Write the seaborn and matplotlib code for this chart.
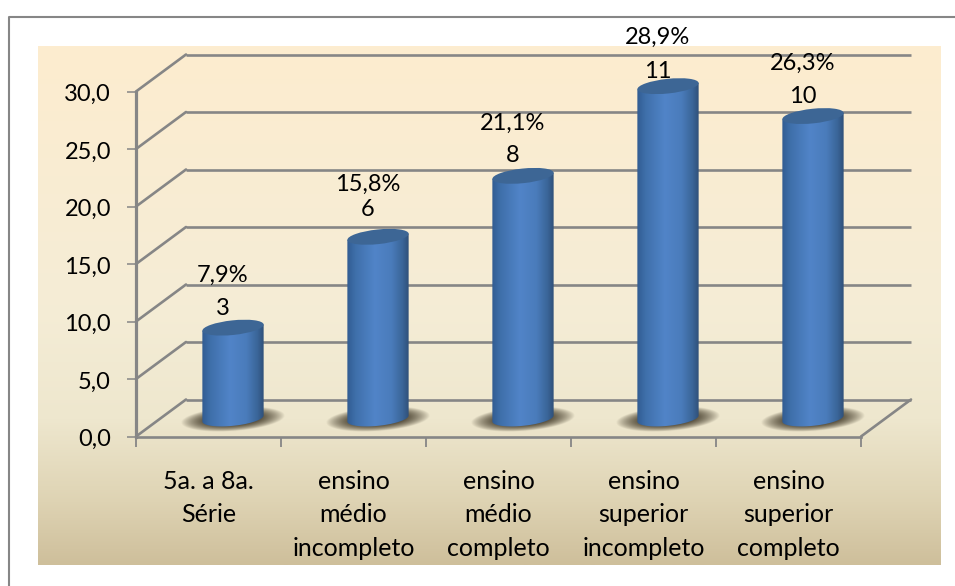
import numpy as np
import pandas as pd
import seaborn as sns
import matplotlib.pyplot as plt
from matplotlib.colors import LinearSegmentedColormap
from matplotlib.lines import Line2D
from matplotlib.patches import Ellipse
from matplotlib.path import Path
from matplotlib.transforms import Affine2D, IdentityTransform

# Data
categories = ["5a. a 8a.\nSérie", "ensino\nmédio\nincompleto", "ensino\nmédio\ncompleto",
              "ensino\nsuperior\nincompleto", "ensino\nsuperior\ncompleto"]
percent = [7.9, 15.8, 21.1, 28.9, 26.3]
counts = [3, 6, 8, 11, 10]
y_ticks = [0, 5, 10, 15, 20, 25, 30]
y_tick_labels = ["0,0", "5,0", "10,0", "15,0", "20,0", "25,0", "30,0"]

W, H = 955, 586
GRAY = "#868686"
LW = 1.9

sns.set_theme(style="white")
plt.rcParams["font.family"] = ["Lato", "DejaVu Sans"]
FS = 17

fig = plt.figure(figsize=(W / 100, H / 100), dpi=100, facecolor="white")

# outer frame, only top and left show in the picture
fig.add_artist(Line2D([9 / W, 9 / W, 1], [0, 1 - 17 / H, 1 - 17 / H], color=GRAY, lw=1.5))

# background gradient
bg = fig.add_axes([38 / W, 1 - 565 / H, 902 / W, 519 / H], zorder=0)
bg_cmap = LinearSegmentedColormap.from_list("bg", [(0, "#FDECCF"), (0.5, "#F5EDD6"),
                                                   (0.72, "#EEE7CE"), (0.88, "#DED3B3"), (1, "#CEBF9B")])
bg.imshow(np.linspace(0, 1, 256).reshape(-1, 1), cmap=bg_cmap, aspect="auto")
bg.axis("off")

# front plane of the 3d box
ax = fig.add_axes([136 / W, 1 - 436.5 / H, 725 / W, 345 / H], zorder=1)
ax.patch.set_alpha(0)

df = pd.DataFrame({"cat": categories, "pct": percent})
sns.barplot(data=df, x="cat", y="pct", order=categories, width=0.424, color="#4A7EBB",
            saturation=1, ax=ax, zorder=3)
ax.set_xlim(-0.5, 4.5)
ax.set_ylim(0, 30)
ax.set_xlabel("")
ax.set_ylabel("")
fig.canvas.draw()

# box walls
wall = ax.transData + Affine2D().translate(50, 37)
ax.hlines(y_ticks, -0.5, 4.5, color=GRAY, lw=LW, transform=wall, clip_on=False, zorder=1)
for v in y_ticks:
    x0, y0 = ax.transData.transform((-0.5, v))
    ax.add_line(Line2D([x0, x0 + 50], [y0, y0 + 37], color=GRAY, lw=LW,
                       transform=IdentityTransform(), clip_on=False, zorder=1))
x0, y0 = ax.transData.transform((4.5, 0))
ax.add_line(Line2D([x0, x0 + 50], [y0, y0 + 37], color=GRAY, lw=LW,
                   transform=IdentityTransform(), clip_on=False, zorder=1))

# cylinders: the seaborn bars moved half way into the box, then shaded
depth = ax.transData + Affine2D().translate(24.5, 18)
body_cmap = LinearSegmentedColormap.from_list("body", [(0, "#315C92"), (0.14, "#3F70AB"), (0.45, "#5184C8"),
                                                       (0.72, "#4A7CBB"), (0.9, "#3A6598"), (1, "#2F5079")])
shadow_rgba = np.zeros((60, 200, 4))
yy, xx = np.mgrid[-1:1:60j, -1:1:200j]
shadow_rgba[..., :3] = np.array([0.28, 0.25, 0.18])
shadow_rgba[..., 3] = 0.95 * np.clip(1.3 - np.hypot(xx, yy) ** 2 * 1.3, 0, 1) ** 0.9

A, B, TILT = 30.8, 7.3, np.deg2rad(6)
for bar in ax.patches:
    bar.set_visible(False)
    left, top = bar.get_x(), bar.get_height()
    w = bar.get_width()
    cx, ytop = depth.transform((left + w / 2, top))
    _, ybot = depth.transform((left + w / 2, 0))

    shadow = ax.imshow(shadow_rgba, aspect="auto", zorder=2, clip_on=False, extent=(-52, 52, -12, 12))
    shadow.set_transform(Affine2D().rotate_deg(4).translate(cx, ybot - 0.5))

    t = np.linspace(np.pi, 2 * np.pi, 40)
    ex = A * np.cos(t)
    ey = B * np.sin(t)
    px = cx + ex * np.cos(TILT) - ey * np.sin(TILT)
    py = ybot + ex * np.sin(TILT) + ey * np.cos(TILT)
    rise = A * np.sin(TILT)
    verts = list(zip(px, py)) + [(px[-1], ytop + rise), (px[0], ytop - rise), (px[0], py[0])]
    body = ax.imshow(np.linspace(0, 1, 128).reshape(1, -1), cmap=body_cmap, aspect="auto", zorder=4,
                     extent=(left, left + w, -2, top + 1))
    body.set_transform(depth)
    # images get cut to the axes box otherwise, and the tallest bar leaves it
    body.set_clip_box(fig.bbox)
    body.set_clip_path(Path(verts), IdentityTransform())

    cap = Ellipse((0, 0), 2 * A, 2 * B, color="#3D6695", lw=0, zorder=5, clip_on=False,
                  transform=Affine2D().rotate_deg(6).translate(cx, ytop))
    ax.add_patch(cap)

ax.set_xlim(-0.5, 4.5)
ax.set_ylim(0, 30)

# data labels, the two lines sit a bit differently per bar in the original
count_rise = [37.6, 45.8, 37.9, 33, 37.3]
pct_gap = [33, 25, 33, 34, 33]
for i, (p, c) in enumerate(zip(percent, counts)):
    ax.annotate(str(c), (i, p), xytext=(14.5, count_rise[i]), textcoords="offset pixels",
                ha="center", va="center", fontsize=FS, color="black", annotation_clip=False, zorder=6)
    ax.annotate(f"{p:.1f}%".replace(".", ","), (i, p), xytext=(14.5, count_rise[i] + pct_gap[i]),
                textcoords="offset pixels", ha="center", va="center", fontsize=FS, color="black",
                annotation_clip=False, zorder=6)

# axes
for s in ["top", "right"]:
    ax.spines[s].set_visible(False)
ax.spines["left"].set_color(GRAY)
ax.spines["left"].set_linewidth(2.3)
ax.spines["bottom"].set_color(GRAY)
ax.spines["bottom"].set_linewidth(LW)
ax.spines["left"].set_zorder(1.5)
ax.spines["bottom"].set_zorder(1.5)
ax.set_yticks(y_ticks)
ax.set_yticklabels(y_tick_labels, fontsize=FS, color="black")
ax.set_xticks(np.arange(-0.5, 5, 1))
ax.set_xticklabels([])
ax.set_xticks(range(5), categories, minor=True, fontsize=18, color="black", linespacing=1.56)
ax.tick_params(axis="x", which="major", length=7.5, width=1.3, color=GRAY, bottom=True)
ax.tick_params(axis="x", which="minor", length=0, pad=24)
ax.tick_params(axis="y", length=6.5, width=1.1, color=GRAY, pad=11.5, left=True)
for lab in ax.get_yticklabels():
    lab.set_transform(lab.get_transform() + Affine2D().translate(0, -1.3))

fig.savefig("out.png", dpi=100)
